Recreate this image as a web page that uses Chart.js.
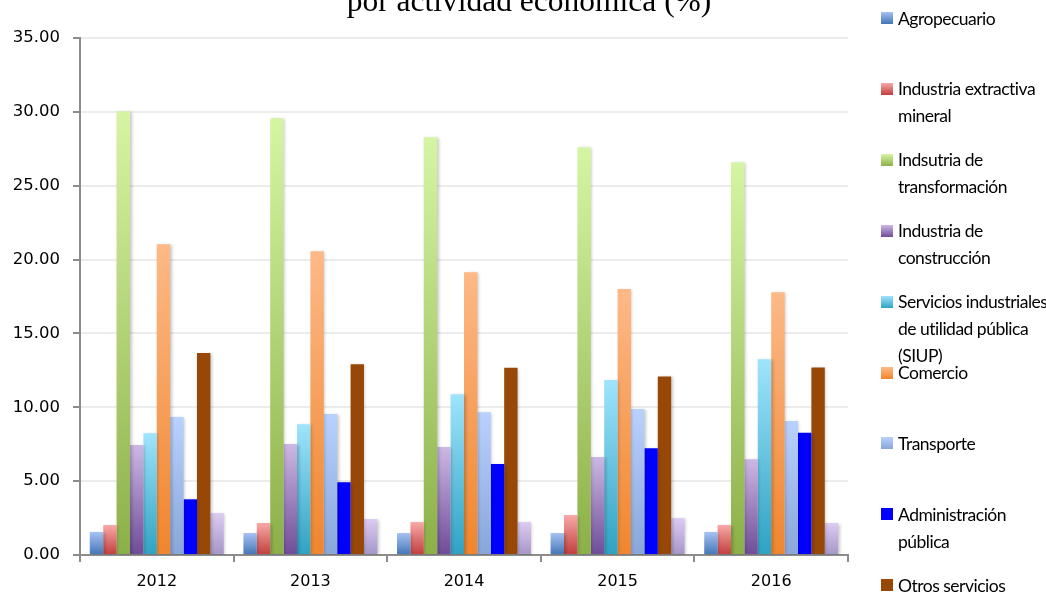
<!DOCTYPE html>
<html>
<head>
<meta charset="utf-8">
<script src="https://cdn.jsdelivr.net/npm/chart.js@4/dist/chart.umd.min.js"></script>
<style>
  html, body { margin: 0; padding: 0; background: #fff; }
  #wrap { position: relative; width: 1046px; height: 592px; overflow: hidden; background: #fff; }
  #chart { position: absolute; left: 0; top: 0; }
  #title {
    position: absolute; left: 0; width: 1058px; top: -14px;
    text-align: center; font: 31.5px/30px "Liberation Serif", "Times New Roman", serif; color: #000;
  }
  #legend { position: absolute; left: 0; top: 0; width: 1046px; height: 592px; }
  .item { position: absolute; left: 881px; width: 165px; }
  .swatch { position: absolute; left: 0; width: 12px; height: 12px; }
  .label {
    position: absolute; left: 17px; width: 152px;
    font: 17.5px/27px Lato, "Open Sans", sans-serif; letter-spacing: -0.5px; color: #000;
  }
</style>
</head>
<body>
<div id="wrap">
  <canvas id="chart" width="1046" height="592"></canvas>
  <div id="title">por actividad económica (%)</div>
  <div id="legend"></div>
</div>
<script>
// Categories and series
const years = ['2012', '2013', '2014', '2015', '2016'];

const agropecuario   = [1.56, 1.49, 1.49, 1.49, 1.56];
const extractiva     = [2.03, 2.17, 2.23, 2.71, 2.03];
const transformacion = [30.04, 29.57, 28.28, 27.60, 26.59];
const construccion   = [7.44, 7.51, 7.31, 6.63, 6.49];
const siup           = [8.25, 8.86, 10.89, 11.84, 13.26];
const comercio       = [21.04, 20.57, 19.15, 18.00, 17.79];
const transporte     = [9.34, 9.54, 9.67, 9.88, 9.07];
const administracion = [3.77, 4.92, 6.16, 7.22, 8.28];
const otros          = [13.67, 12.92, 12.67, 12.09, 12.70];
const financieros    = [2.84, 2.44, 2.23, 2.50, 2.17];

const seriesNames = [
    'Agropecuario',
    'Industria extractiva mineral',
    'Indsutria de transformación',
    'Industria de construcción',
    'Servicios industriales de utilidad pública (SIUP)',
    'Comercio',
    'Transporte',
    'Administración pública',
    'Otros servicios',
    'Servicios financieros'
];
const seriesValues = [agropecuario, extractiva, transformacion, construccion, siup,
    comercio, transporte, administracion, otros, financieros];

// top / bottom colours of each bar gradient
const seriesColors = [
    ['#a7c2f3', '#4274b6'],
    ['#f8a9a8', '#c13d3b'],
    ['#d6f5a4', '#8cb048'],
    ['#ccb8e4', '#6f4c98'],
    ['#9fe4fc', '#2fa2c2'],
    ['#fdb987', '#f0862e'],
    ['#b9d1fe', '#88a6d9'],
    ['#0000ff', '#0000ff'],
    ['#974706', '#974706'],
    ['#dccbf2', '#a596c9']
];

const yTicks = [0, 5, 10, 15, 20, 25, 30, 35];

// Gradient running from the top of each bar down to the axis
function barGradient(top, bottom) {
    return (context) => {
        const chart = context.chart;
        if (!chart.chartArea || context.raw === undefined) return bottom;
        const y = chart.scales.y;
        const g = chart.ctx.createLinearGradient(0, y.getPixelForValue(context.raw), 0, y.getPixelForValue(0));
        g.addColorStop(0, top);
        g.addColorStop(1, bottom);
        return g;
    };
}

// Soft shadow behind the bars
const barShadow = {
    id: 'barShadow',
    beforeDatasetsDraw(chart) {
        const ctx = chart.ctx;
        ctx.save();
        ctx.shadowColor = 'rgba(0,0,0,0.22)';
        ctx.shadowBlur = 3;
        ctx.shadowOffsetX = 1.5;
        ctx.shadowOffsetY = 1;
    },
    afterDatasetsDraw(chart) {
        chart.ctx.restore();
    }
};

const axisGray = '#8c8c8c';

const chart = new Chart(document.getElementById('chart').getContext('2d'), {
    type: 'bar',
    data: {
        labels: years,
        datasets: seriesNames.map((name, i) => ({
            label: name,
            data: seriesValues[i],
            backgroundColor: barGradient(seriesColors[i][0], seriesColors[i][1]),
            borderWidth: 0,
            categoryPercentage: 0.872,
            barPercentage: 1.0
        }))
    },
    options: {
        responsive: false,
        animation: false,
        layout: { padding: { left: 0, right: 198, top: 38, bottom: 0 } },
        plugins: {
            legend: { display: false },
            title: { display: false },
            tooltip: { enabled: false }
        },
        scales: {
            x: {
                grid: {
                    offset: true,
                    drawOnChartArea: false,
                    drawTicks: true,
                    tickLength: 7,
                    color: axisGray,
                    lineWidth: 2
                },
                border: { color: axisGray, width: 2 },
                ticks: {
                    padding: 10,
                    color: '#000',
                    font: { family: 'DejaVu Sans', size: 16 }
                },
                afterFit(scale) { scale.height = 37; }
            },
            y: {
                min: 0,
                max: 35,
                afterBuildTicks(scale) { scale.ticks = yTicks.map(v => ({ value: v })); },
                grid: {
                    color: '#ececec',
                    lineWidth: 2,
                    tickLength: 7,
                    tickColor: axisGray
                },
                border: { color: axisGray, width: 2 },
                ticks: {
                    padding: 13,
                    color: '#000',
                    font: { family: 'DejaVu Sans', size: 16.5 },
                    callback: (v) => Number(v).toFixed(2)
                },
                afterFit(scale) { scale.width = 80; }
            }
        }
    },
    plugins: [barShadow]
});

// Legend on the right, one entry every ~71px
const legend = document.getElementById('legend');
seriesNames.forEach((name, i) => {
    const mid = 18 + i * 70.9;
    const item = document.createElement('div');
    item.className = 'item';
    item.style.top = (mid - 13.5) + 'px';
    const sw = document.createElement('div');
    sw.className = 'swatch';
    sw.style.top = '7.5px';
    sw.style.background = `linear-gradient(${seriesColors[i][0]}, ${seriesColors[i][1]})`;
    const lb = document.createElement('div');
    lb.className = 'label';
    lb.style.top = '0px';
    lb.textContent = name;
    item.appendChild(sw);
    item.appendChild(lb);
    legend.appendChild(item);
});
</script>
</body>
</html>
